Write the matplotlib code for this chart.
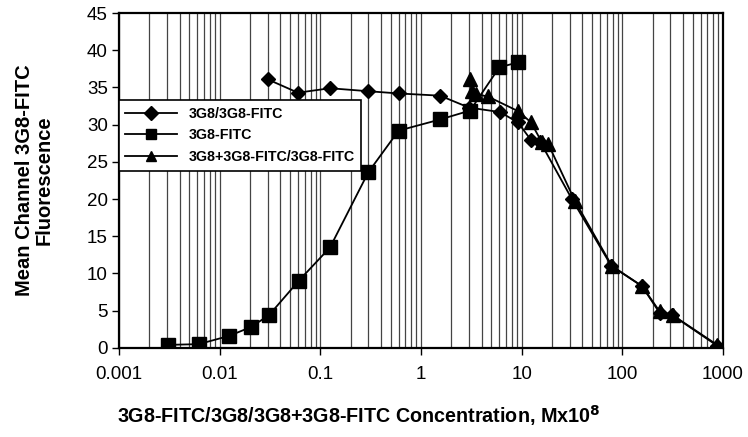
import matplotlib.pyplot as plt
from matplotlib.ticker import LogLocator, NullFormatter

plt.rcParams['font.family'] = ['Liberation Sans', 'DejaVu Sans']

# 3G8/3G8-FITC (diamonds)
dia_x = [0.03, 0.06, 0.125, 0.3, 0.6, 1.55, 3.0, 6.1, 9.2, 12.3, 15.3, 31.6, 78, 157, 235, 313, 875]
dia_y = [36.1, 34.3, 34.9, 34.5, 34.2, 33.9, 32.3, 31.7, 30.3, 28.0, 27.7, 20.0, 11.0, 8.3, 4.7, 4.4, 0.3]

# 3G8-FITC (squares)
sq_x = [0.0031, 0.0062, 0.0124, 0.0205, 0.031, 0.061, 0.125, 0.3, 0.6, 1.55, 3.08, 6.0, 9.3]
sq_y = [0.4, 0.5, 1.6, 2.8, 4.4, 9.0, 13.5, 23.6, 29.2, 30.7, 31.9, 37.7, 38.4]

# 3G8+3G8-FITC/3G8-FITC (triangles)
tri_x = [3.05, 3.2, 3.5, 4.6, 9.3, 12.4, 15.8, 18.4, 34, 79, 157, 235, 316, 875]
tri_y = [36.2, 34.5, 34.1, 33.8, 31.8, 30.3, 27.7, 27.4, 19.7, 11.0, 8.3, 4.9, 4.4, 0.4]

fig = plt.figure(figsize=(7.48, 4.37), dpi=100)
ax = fig.add_axes([0.159, 0.204, 0.8075, 0.766])

ax.plot(dia_x, dia_y, color='black', marker='D', markersize=7.5, lw=1.3, label='3G8/3G8-FITC')
ax.plot(sq_x, sq_y, color='black', marker='s', markersize=10.5, lw=1.3, label='3G8-FITC')
ax.plot(tri_x, tri_y, color='black', marker='^', markersize=10.5, lw=1.3, label='3G8+3G8-FITC/3G8-FITC')

ax.set_xscale('log')
ax.set_xlim(0.001, 1000)
ax.set_ylim(0, 45)
ax.set_yticks(range(0, 46, 5))
ax.set_xticks([0.001, 0.01, 0.1, 1, 10, 100, 1000])
ax.set_xticklabels(['0.001', '0.01', '0.1', '1', '10', '100', '1000'])
ax.xaxis.set_minor_locator(LogLocator(base=10, subs=range(2, 10)))
ax.xaxis.set_minor_formatter(NullFormatter())
ax.tick_params(axis='x', which='minor', length=0)
ax.tick_params(axis='both', which='major', labelsize=13.5, direction='out', length=5, width=1)
ax.tick_params(axis='x', which='major', pad=8)
ax.tick_params(axis='y', which='major', pad=3)

ax.grid(True, axis='x', which='both', color='#444444', lw=0.9)
ax.set_axisbelow(True)
for s in ax.spines.values():
    s.set_linewidth(1.6)

ax.set_xlabel('3G8-FITC/3G8/3G8+3G8-FITC Concentration, Mx10$\\mathbf{^8}$',
              fontsize=14.2, fontweight='bold', labelpad=13)
ax.xaxis.set_label_coords(0.397, -0.165)
ax.set_ylabel('Mean Channel 3G8-FITC\nFluorescence', fontsize=14.5, fontweight='bold', labelpad=24,
              linespacing=1.0)

leg = ax.legend(loc='upper left', bbox_to_anchor=(0.0, 0.74), frameon=True,
                fancybox=False, edgecolor='black', framealpha=1, borderaxespad=0,
                handlelength=3.6, labelspacing=0.55, borderpad=0.45,
                prop={'weight': 'bold', 'size': 10.3})
leg.get_frame().set_linewidth(1.2)
for h in leg.legend_handles:
    h.set_markersize(7.5)

fig.savefig('out.png', dpi=100)
